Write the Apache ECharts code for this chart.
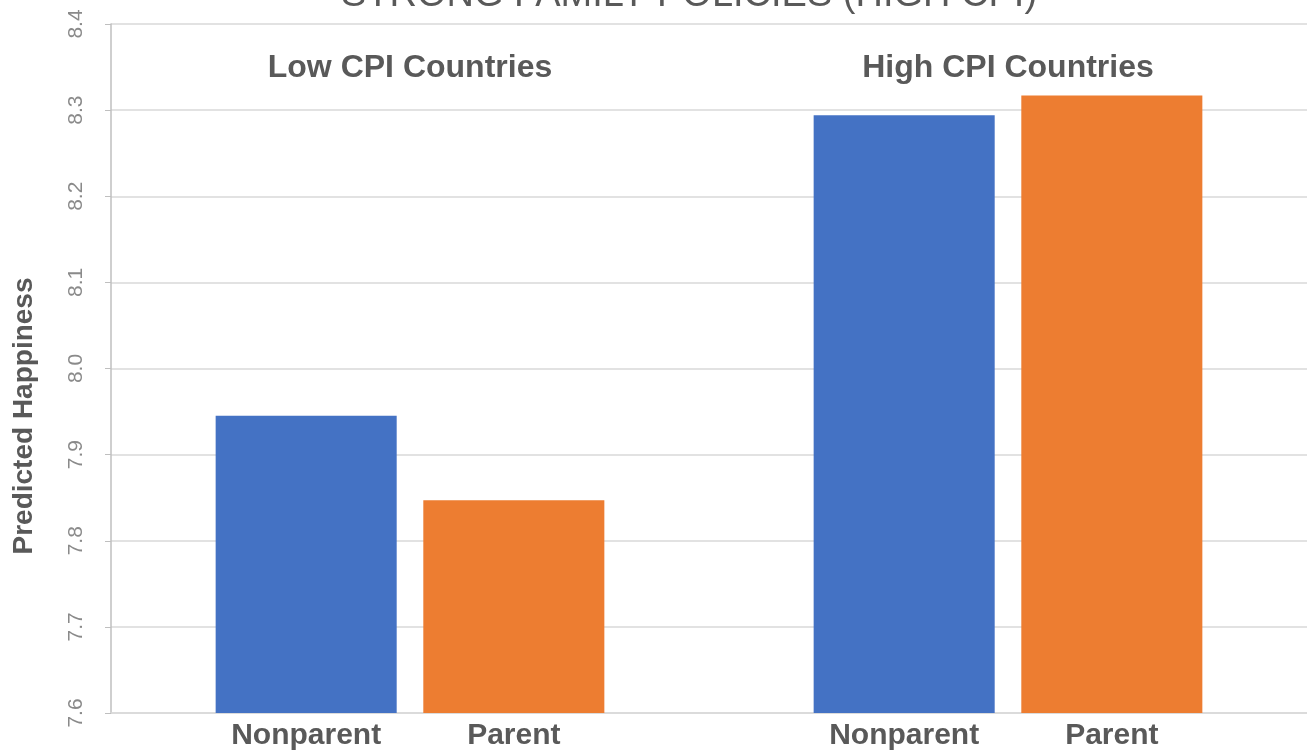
<!DOCTYPE html>
<html>
<head>
<meta charset="utf-8">
<style>
  html, body { margin: 0; padding: 0; background: #ffffff; }
  #chart { width: 1307px; height: 753px; }
</style>
<script src="https://cdn.jsdelivr.net/npm/echarts@6/dist/echarts.min.js"></script>
</head>
<body>
<div id="chart"></div>
<script>
var titleText = 'STRONG FAMILY POLICIES (HIGH CPI)';
var yAxisName = 'Predicted Happiness';
var categories = ['Low CPI Countries', 'High CPI Countries'];
var seriesNames = ['Nonparent', 'Parent'];
var nonparentValues = [7.945, 8.294];
var parentValues = [7.847, 8.317];
var yMin = 7.6, yMax = 8.4, yStep = 0.1;

var FONT = '"Liberation Sans", Arial, sans-serif';
var TEXT = '#595959';

var chart = echarts.init(document.getElementById('chart'), null, { renderer: 'canvas' });

function barLabel(name) {
  return {
    show: true,
    position: 'bottom',
    distance: 8,
    formatter: name,
    color: TEXT,
    fontFamily: FONT,
    fontWeight: 'bold',
    fontSize: 30
  };
}

chart.setOption({
  animation: false,
  backgroundColor: '#ffffff',
  title: {
    text: titleText,
    left: 336,
    top: -28,
    textStyle: { color: TEXT, fontFamily: FONT, fontWeight: 'normal', fontSize: 38 }
  },
  grid: { left: 111, right: 0, top: 24, bottom: 40, containLabel: false },
  xAxis: [{
    type: 'category',
    data: categories,
    axisLine: { show: true, lineStyle: { color: '#d9d9d9', width: 1.5 } },
    axisTick: { show: false },
    axisLabel: { show: false }
  }, {
    type: 'category',
    data: categories,
    position: 'top',
    axisLine: { show: false },
    axisTick: { show: false },
    axisLabel: {
      show: true,
      inside: true,
      margin: 28,
      color: TEXT,
      fontFamily: FONT,
      fontWeight: 'bold',
      fontSize: 32
    }
  }],
  yAxis: {
    type: 'value',
    min: yMin,
    max: yMax,
    interval: yStep,
    axisLine: { show: true, lineStyle: { color: '#bfbfbf', width: 1.5 } },
    axisTick: { show: true, inside: false, length: 6, lineStyle: { color: '#bfbfbf' } },
    splitLine: { show: true, lineStyle: { color: '#d9d9d9', width: 1.5 } },
    axisLabel: {
      rotate: 90,
      margin: 24,
      color: '#8a8a8a',
      fontFamily: FONT,
      fontSize: 21,
      formatter: function (v) { return v.toFixed(1); }
    }
  },
  graphic: [{
    type: 'text',
    x: 24,
    y: 416,
    rotation: Math.PI / 2,
    style: {
      text: yAxisName,
      fill: TEXT,
      font: 'bold 28px ' + FONT,
      textAlign: 'center',
      textVerticalAlign: 'middle'
    }
  }],
  series: [{
    name: seriesNames[0],
    type: 'bar',
    data: nonparentValues,
    barGap: '14.7%',
    barCategoryGap: '35%',
    itemStyle: { color: '#4472C4' },
    label: barLabel(seriesNames[0])
  }, {
    name: seriesNames[1],
    type: 'bar',
    data: parentValues,
    itemStyle: { color: '#ED7D31' },
    label: barLabel(seriesNames[1])
  }]
});
</script>
</body>
</html>
